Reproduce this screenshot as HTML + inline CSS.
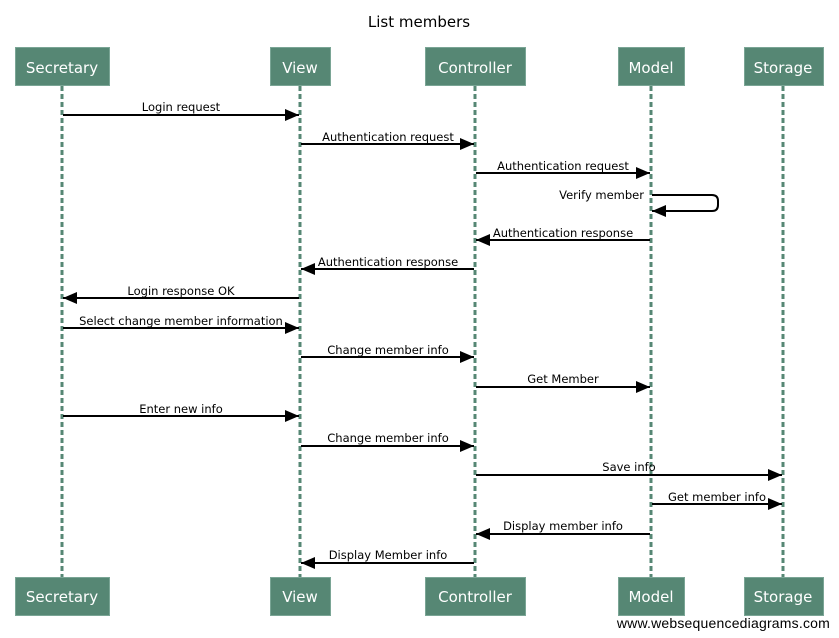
<!DOCTYPE html>
<html><head><meta charset="utf-8"><style>
html,body{margin:0;padding:0;background:#fff;width:839px;height:638px;overflow:hidden}
svg{display:block}
text{font-family:"DejaVu Sans","Liberation Sans",sans-serif}
.p{fill:#fff;font-size:15px;text-anchor:middle}
.l{font-size:11.5px;text-anchor:middle;fill:#000}
.b{fill:#568774;stroke:#7aa595;stroke-width:1}
.ll{stroke:#568774;stroke-width:3;stroke-dasharray:5,3}
.a{stroke:#000;stroke-width:2;fill:none}
</style></head><body>
<svg width="839" height="638" viewBox="0 0 839 638">
<defs><marker id="h" markerWidth="14" markerHeight="12" refX="14" refY="6" orient="auto" markerUnits="userSpaceOnUse"><path d="M0,0 L14,6 L0,12 z" fill="#000"/></marker></defs>
<text x="419" y="27" style="font-size:15px;text-anchor:middle">List members</text>
<g>
<line class="ll" x1="62" y1="86" x2="62" y2="577"/>
<line class="ll" x1="300" y1="86" x2="300" y2="577"/>
<line class="ll" x1="475" y1="86" x2="475" y2="577"/>
<line class="ll" x1="651" y1="86" x2="651" y2="577"/>
<line class="ll" x1="783" y1="86" x2="783" y2="577"/>
</g>
<g>
<rect class="b" x="15.5" y="47.5" width="94" height="38"/><text class="p" x="62" y="73">Secretary</text>
<rect class="b" x="270.5" y="47.5" width="60" height="38"/><text class="p" x="300" y="73">View</text>
<rect class="b" x="425.5" y="47.5" width="100" height="38"/><text class="p" x="475" y="73">Controller</text>
<rect class="b" x="618.5" y="47.5" width="66" height="38"/><text class="p" x="651" y="73">Model</text>
<rect class="b" x="744.5" y="47.5" width="79" height="38"/><text class="p" x="783" y="73">Storage</text>
<rect class="b" x="15.5" y="577.5" width="94" height="38"/><text class="p" x="62" y="602">Secretary</text>
<rect class="b" x="270.5" y="577.5" width="60" height="38"/><text class="p" x="300" y="602">View</text>
<rect class="b" x="425.5" y="577.5" width="100" height="38"/><text class="p" x="475" y="602">Controller</text>
<rect class="b" x="618.5" y="577.5" width="66" height="38"/><text class="p" x="651" y="602">Model</text>
<rect class="b" x="744.5" y="577.5" width="79" height="38"/><text class="p" x="783" y="602">Storage</text>
</g>
<g>
<line class="a" x1="63" y1="115" x2="299" y2="115" marker-end="url(#h)"/><text class="l" x="181" y="111">Login request</text>
<line class="a" x1="301" y1="144" x2="474" y2="144" marker-end="url(#h)"/><text class="l" x="388" y="141">Authentication request</text>
<line class="a" x1="476" y1="173" x2="650" y2="173" marker-end="url(#h)"/><text class="l" x="563" y="170">Authentication request</text>
<path class="a" d="M652,195 L712,195 Q718,195 718,201 L718,205 Q718,211 712,211 L652,211" marker-end="url(#h)"/><text x="644" y="199" style="font-size:11.5px;text-anchor:end">Verify member</text>
<line class="a" x1="650" y1="240" x2="476" y2="240" marker-end="url(#h)"/><text class="l" x="563" y="237">Authentication response</text>
<line class="a" x1="474" y1="269" x2="301" y2="269" marker-end="url(#h)"/><text class="l" x="388" y="266">Authentication response</text>
<line class="a" x1="299" y1="298" x2="63" y2="298" marker-end="url(#h)"/><text class="l" x="181" y="295">Login response OK</text>
<line class="a" x1="63" y1="328" x2="299" y2="328" marker-end="url(#h)"/><text class="l" x="181" y="325">Select change member information</text>
<line class="a" x1="301" y1="357" x2="474" y2="357" marker-end="url(#h)"/><text class="l" x="388" y="354">Change member info</text>
<line class="a" x1="476" y1="387" x2="650" y2="387" marker-end="url(#h)"/><text class="l" x="563" y="383">Get Member</text>
<line class="a" x1="63" y1="416" x2="299" y2="416" marker-end="url(#h)"/><text class="l" x="181" y="413">Enter new info</text>
<line class="a" x1="301" y1="446" x2="474" y2="446" marker-end="url(#h)"/><text class="l" x="388" y="442">Change member info</text>
<line class="a" x1="476" y1="475" x2="782" y2="475" marker-end="url(#h)"/><text class="l" x="629" y="471">Save info</text>
<line class="a" x1="652" y1="504" x2="782" y2="504" marker-end="url(#h)"/><text class="l" x="717" y="501">Get member info</text>
<line class="a" x1="650" y1="534" x2="476" y2="534" marker-end="url(#h)"/><text class="l" x="563" y="530">Display member info</text>
<line class="a" x1="474" y1="563" x2="301" y2="563" marker-end="url(#h)"/><text class="l" x="388" y="559">Display Member info</text>
</g>
<text x="830" y="628" style="font-family:'Liberation Sans',sans-serif;font-size:14px;letter-spacing:0.2px;text-anchor:end">www.websequencediagrams.com</text>
</svg>
</body></html>
